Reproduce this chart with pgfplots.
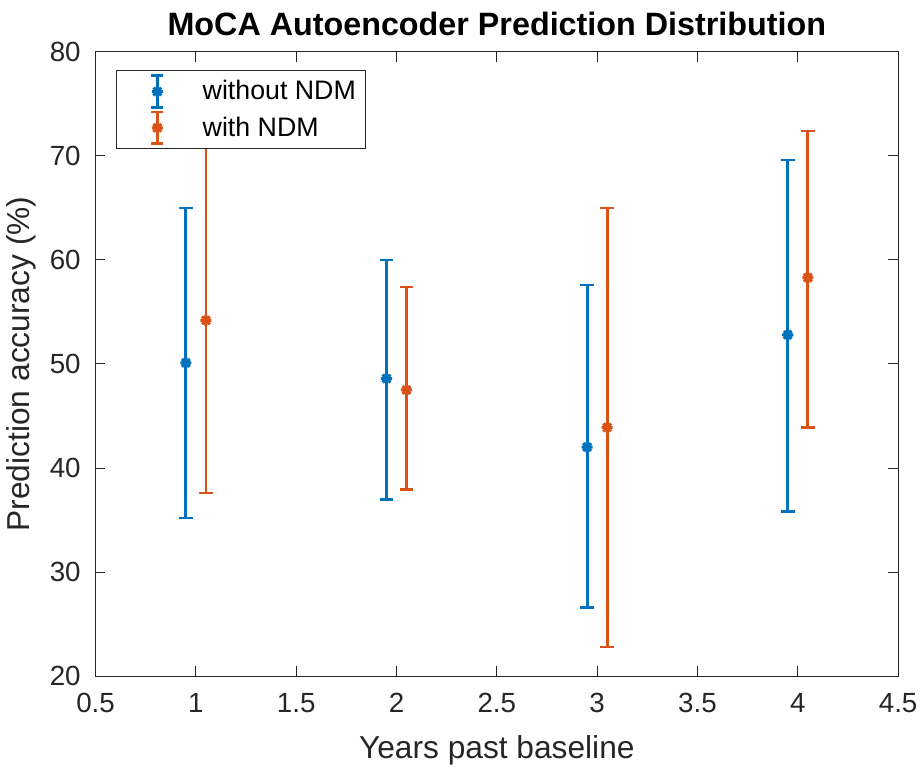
\documentclass[border=0pt]{standalone}
\usepackage{pgfplots}
\pgfplotsset{compat=1.18}
\usepackage{fontspec}
\setmainfont{Liberation Sans}
\definecolor{mblue}{rgb}{0,0.447,0.741}
\definecolor{morange}{rgb}{0.85,0.325,0.098}
\definecolor{mgray}{rgb}{0.15,0.15,0.15}
\pgfdeclareplotmark{mstar}{%
  \pgfpathmoveto{\pgfqpoint{0pt}{\pgfplotmarksize}}%
  \pgfpathlineto{\pgfqpoint{0pt}{-\pgfplotmarksize}}%
  \pgfpathmoveto{\pgfqpoint{\pgfplotmarksize}{0pt}}%
  \pgfpathlineto{\pgfqpoint{-\pgfplotmarksize}{0pt}}%
  \pgfpathmoveto{\pgfqpoint{0.707\pgfplotmarksize}{0.707\pgfplotmarksize}}%
  \pgfpathlineto{\pgfqpoint{-0.707\pgfplotmarksize}{-0.707\pgfplotmarksize}}%
  \pgfpathmoveto{\pgfqpoint{0.707\pgfplotmarksize}{-0.707\pgfplotmarksize}}%
  \pgfpathlineto{\pgfqpoint{-0.707\pgfplotmarksize}{0.707\pgfplotmarksize}}%
  \pgfusepathqstroke}
\begin{document}
\begin{tikzpicture}
\begin{axis}[
  scale only axis,
  width=405pt, height=315pt,
  xmin=0.5, xmax=4.5, ymin=20, ymax=80,
  xtick={0.5,1,...,4.5}, ytick={20,30,...,80},
  xticklabels={0.5,1,1.5,2,2.5,3,3.5,4,4.5},
  tick align=inside,
  major tick length=5pt,
  axis line style={mgray, line width=0.5pt},
  tick style={mgray, line width=0.5pt},
  /pgf/number format/assume math mode=true,
  tick label style={font=\fontsize{14}{16}\selectfont, text=mgray},
  xticklabel style={yshift=-5pt},
  yticklabel style={xshift=-4pt},
  xlabel={Years past baseline},
  ylabel={Prediction accuracy (\%)},
  label style={font=\fontsize{16}{18}\selectfont, text=mgray},
  xlabel style={inner ysep=2.5pt, yshift=-5.3pt},
  title={\textbf{MoCA Autoencoder Prediction Distribution}},
  title style={font=\fontsize{16.3}{18}\selectfont, inner ysep=6pt, yshift=-4pt},
  legend style={at={(0.026,0.971)}, anchor=north west, draw=mgray, line width=0.5pt,
     font=\fontsize{13.5}{15}\selectfont, row sep=1pt, inner xsep=3pt, inner ysep=2pt},
  legend cell align=left,
  legend image code/.code={
    \draw[#1,mark=none,line width=1.3pt] (0.4cm+6pt,-8pt) -- (0.4cm+6pt,8pt);
    \draw[#1,mark=none,line width=1.3pt] (0.4cm+3pt,-8pt) -- (0.4cm+9pt,-8pt);
    \draw[#1,mark=none,line width=1.3pt] (0.4cm+3pt,8pt) -- (0.4cm+9pt,8pt);
    \path[draw=none] (0cm,0pt) -- (1.1cm+7pt,0pt);
    \path[#1] plot coordinates {(0.4cm+6pt,0pt)};
  },
]
\addplot+[mblue, only marks, mark=mstar, mark size=2.8pt, line width=1.4pt,
  mark options={mblue, line width=1.5pt},
  error bars/.cd, y dir=both, y explicit,
  error bar style={mblue, line width=1.4pt},
  error mark options={rotate=90, mark size=3.4pt, line width=1.4pt, mblue}]
coordinates {
  (0.95,50.1) += (0,14.9) -= (0,14.9)
  (1.95,48.6) += (0,11.4) -= (0,11.6)
  (2.95,42.0) += (0,15.6) -= (0,15.4)
  (3.95,52.8) += (0,16.8) -= (0,17.0)
};
\addlegendentry{without NDM}
\addplot+[morange, only marks, mark=mstar, mark size=2.8pt, line width=1.4pt,
  mark options={morange, line width=1.5pt},
  error bars/.cd, y dir=both, y explicit,
  error bar style={morange, line width=1.4pt},
  error mark options={rotate=90, mark size=3.4pt, line width=1.4pt, morange}]
coordinates {
  (1.05,54.2) += (0,16.6) -= (0,16.6)
  (2.05,47.5) += (0,9.9) -= (0,9.6)
  (3.05,43.9) += (0,21.1) -= (0,21.1)
  (4.05,58.3) += (0,14.1) -= (0,14.4)
};
\addlegendentry{with NDM}
\end{axis}
\end{tikzpicture}
\end{document}
